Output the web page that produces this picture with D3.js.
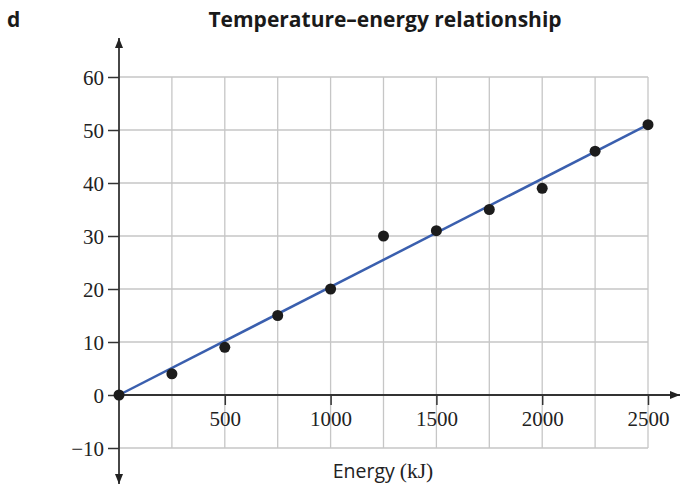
<!DOCTYPE html>
<html><head><meta charset="utf-8">
<script src="https://cdn.jsdelivr.net/npm/d3@7"></script>
<style>body{margin:0;background:#fff}svg{display:block}</style>
</head><body>
<svg id="c" width="681" height="486"></svg>
<script>
const energy = [0, 250, 500, 750, 1000, 1250, 1500, 1750, 2000, 2250, 2500];
const temperature = [0, 4, 9, 15, 20, 30, 31, 35, 39, 46, 51];
const fitLine = [[0, 0], [2500, 51]];
const xTicks = [500, 1000, 1500, 2000, 2500];
const yTicks = [-10, 0, 10, 20, 30, 40, 50, 60];
const xGrid = [250, 500, 750, 1000, 1250, 1500, 1750, 2000, 2250, 2500];
const yGrid = [-10, 10, 20, 30, 40, 50, 60];

const svg = d3.select("#c");
const x = d3.scaleLinear().domain([0, 2500]).range([119, 648]);
const y = d3.scaleLinear().domain([-10, 60]).range([448, 77]);

// grid
const g = svg.append("g").attr("stroke", "#c6c6c6").attr("stroke-width", 1.3);
g.selectAll(".v").data(xGrid).join("line")
  .attr("x1", d => x(d)).attr("x2", d => x(d)).attr("y1", y(60)).attr("y2", y(-10));
g.selectAll(".h").data(yGrid).join("line")
  .attr("x1", x(0)).attr("x2", x(2500)).attr("y1", d => y(d)).attr("y2", d => y(d));

// arrow marker
const defs = svg.append("defs");
defs.append("marker").attr("id", "arr").attr("viewBox", "0 0 10 10").attr("refX", 10).attr("refY", 5)
  .attr("markerWidth", 10).attr("markerHeight", 10).attr("markerUnits", "userSpaceOnUse").attr("orient", "auto")
  .append("path").attr("d", "M0,1 L10,5 L0,9 Z").attr("fill", "#222");

// axes
const ax = svg.append("g").attr("stroke", "#333").attr("stroke-width", 1.8);
ax.append("line").attr("x1", x(0)).attr("x2", 680).attr("y1", y(0)).attr("y2", y(0)).attr("marker-end", "url(#arr)");
ax.append("line").attr("x1", x(0)).attr("x2", x(0)).attr("y1", y(0)).attr("y2", 38).attr("marker-end", "url(#arr)");
ax.append("line").attr("x1", x(0)).attr("x2", x(0)).attr("y1", y(0)).attr("y2", 484).attr("marker-end", "url(#arr)");

// ticks
const xAxis = d3.axisBottom(x).tickValues(xTicks).tickSize(10).tickPadding(6).tickFormat(d3.format("d"));
const xa = svg.append("g").attr("transform", `translate(0,${y(0)})`).call(xAxis);
xa.select(".domain").remove();
const yAxis = d3.axisLeft(y).tickValues(yTicks).tickSize(11).tickPadding(4)
  .tickFormat(d => d < 0 ? "\u2212" + Math.abs(d) : String(d));
const ya = svg.append("g").attr("transform", `translate(${x(0)},0)`).call(yAxis);
ya.select(".domain").remove();
svg.selectAll(".tick line").attr("stroke", "#333").attr("stroke-width", 1.5);
svg.selectAll(".tick text").attr("font-family", "'Liberation Serif', 'Times New Roman', serif")
  .attr("font-size", 21).attr("fill", "#222");
ya.selectAll(".tick text").attr("dy", "0.34em");

// fit line
svg.append("line").attr("x1", x(fitLine[0][0])).attr("y1", y(fitLine[0][1]))
  .attr("x2", x(fitLine[1][0])).attr("y2", y(fitLine[1][1]))
  .attr("stroke", "#3a5fae").attr("stroke-width", 2.5);

// points
svg.selectAll(".pt").data(energy).join("circle")
  .attr("cx", d => x(d)).attr("cy", (d, i) => y(temperature[i])).attr("r", 5.5).attr("fill", "#1c1c1c");

// titles
svg.append("text").attr("x", 7).attr("y", 27).text("d")
  .attr("font-family", "'Open Sans', sans-serif").attr("font-weight", "bold").attr("font-size", 21).attr("fill", "#1a1a1a");
svg.append("text").attr("x", 385).attr("y", 27).attr("text-anchor", "middle").text("Temperature\u2013energy relationship")
  .attr("font-family", "'Open Sans', sans-serif").attr("font-weight", "bold").attr("font-size", 21).attr("fill", "#1a1a1a");
const xl = svg.append("text").attr("x", 383).attr("y", 478).attr("text-anchor", "middle").attr("fill", "#222");
xl.append("tspan").attr("font-family", "'Open Sans', sans-serif").attr("font-size", 19.5).text("Energy ");
xl.append("tspan").attr("font-family", "'Liberation Serif', serif").attr("font-size", 21.5).text("(kJ)");
</script>
</body></html>
